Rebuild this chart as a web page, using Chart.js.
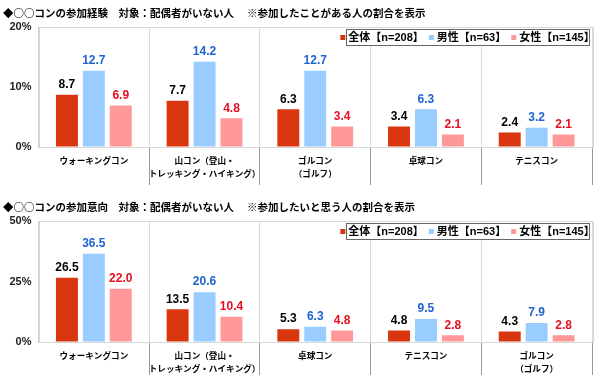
<!DOCTYPE html>
<html>
<head>
<meta charset="utf-8">
<script src="https://cdn.jsdelivr.net/npm/chart.js@4/dist/chart.umd.min.js"></script>
<style>
  html, body { margin: 0; padding: 0; background: #fff; }
  #wrap { position: relative; width: 600px; height: 375px; }
  #c1 { position: absolute; left: 0; top: 0; }
  #c2 { position: absolute; left: 0; top: 194px; }
</style>
</head>
<body>
<div id="wrap">
  <canvas id="c1" width="600" height="194"></canvas>
  <canvas id="c2" width="600" height="181"></canvas>
</div>
<script>
// ---- data ----
const seriesLabels = ['全体【n=208】', '男性【n=63】', '女性【n=145】'];

const title1 = '◆○○コンの参加経験　対象：配偶者がいない人　 ※参加したことがある人の割合を表示';
const categories1 = ['ウォーキングコン', ['山コン（登山・', 'トレッキング・ハイキング）'], ['ゴルコン', '（ゴルフ）'], '卓球コン', 'テニスコン'];
const all1 = [8.7, 7.7, 6.3, 3.4, 2.4];
const male1 = [12.7, 14.2, 12.7, 6.3, 3.2];
const female1 = [6.9, 4.8, 3.4, 2.1, 2.1];
const yTicks1 = [0, 10, 20];

const title2 = '◆○○コンの参加意向　対象：配偶者がいない人　 ※参加したいと思う人の割合を表示';
const categories2 = ['ウォーキングコン', ['山コン（登山・', 'トレッキング・ハイキング）'], '卓球コン', 'テニスコン', ['ゴルコン', '（ゴルフ）']];
const all2 = [26.5, 13.5, 5.3, 4.8, 4.3];
const male2 = [36.5, 20.6, 6.3, 9.5, 7.9];
const female2 = [22.0, 10.4, 4.8, 2.8, 2.8];
const yTicks2 = [0, 25, 50];

// ---- styles ----
const FONT = "'Liberation Sans', 'Noto Sans CJK JP', sans-serif";
const CJK = "'Noto Sans CJK JP', 'Liberation Sans', sans-serif";
Chart.defaults.font.family = FONT;
const barColors = ['#d9360f', '#99ccff', '#ff9999'];
const labelColors = ['#000000', '#1e63d0', '#e60f1e'];

const framePlugin = {
  id: 'frame',
  beforeDatasetsDraw(chart) {
    const a = chart.chartArea, ctx = chart.ctx;
    ctx.save();
    ctx.strokeStyle = '#d9d9d9';
    ctx.lineWidth = 1;
    ctx.strokeRect(Math.round(a.left) + 0.5, Math.round(a.top) + 0.5, Math.round(a.right - a.left), Math.round(a.bottom - a.top));
    ctx.restore();
  }
};

const valueLabels = {
  id: 'valueLabels',
  afterDatasetsDraw(chart) {
    const ctx = chart.ctx;
    ctx.save();
    ctx.font = 'bold 12px ' + FONT;
    ctx.textAlign = 'center';
    ctx.textBaseline = 'bottom';
    chart.data.datasets.forEach((ds, i) => {
      const meta = chart.getDatasetMeta(i);
      ctx.fillStyle = labelColors[i];
      meta.data.forEach((bar, j) => {
        ctx.fillText(ds.data[j].toFixed(1), bar.x, bar.y - 4);
      });
    });
    ctx.restore();
  }
};

const boxLegend = {
  id: 'boxLegend',
  afterDraw(chart) {
    const a = chart.chartArea, ctx = chart.ctx;
    const right = a.right - 3, left = right - 243, top = a.top + 2, h = 16;
    ctx.save();
    ctx.fillStyle = '#fff';
    ctx.fillRect(left, top, right - left, h);
    ctx.strokeStyle = '#666';
    ctx.lineWidth = 1;
    ctx.strokeRect(Math.round(left) + 0.5, Math.round(top) + 0.5, Math.round(right - left), h);
    ctx.font = 'bold 11px ' + FONT;
    ctx.textBaseline = 'middle';
    ctx.textAlign = 'left';
    const items = chart.data.datasets.map((ds, i) => ({ text: ds.label, color: barColors[i], w: ctx.measureText(ds.label).width }));
    const markerW = 5, gap1 = 3, gap2 = 5;
    let total = items.reduce((s, it) => s + markerW + gap1 + it.w, 0) + gap2 * (items.length - 1);
    let x = left + (right - left - total) / 2;
    const cy = top + h / 2 + 1;
    items.forEach(it => {
      ctx.fillStyle = it.color;
      ctx.fillRect(x, cy - 3, markerW, markerW);
      x += markerW + gap1;
      ctx.fillStyle = '#000';
      ctx.fillText(it.text, x, cy);
      x += it.w + gap2;
    });
    ctx.restore();
  }
};

function makeChart(id, title, cats, a, m, f, yt, xHeight) {
  return new Chart(document.getElementById(id), {
    type: 'bar',
    data: {
      labels: cats,
      datasets: [a, m, f].map((d, i) => ({
        label: seriesLabels[i],
        data: d,
        backgroundColor: barColors[i],
        borderWidth: 0,
        categoryPercentage: 0.73,
        barPercentage: 0.815
      }))
    },
    options: {
      responsive: false,
      animation: false,
      layout: { padding: { left: 3, right: 8, top: 0, bottom: 0 } },
      plugins: {
        legend: { display: false },
        tooltip: { enabled: false },
        title: {
          display: true,
          text: title,
          align: 'start',
          color: '#000',
          font: { family: CJK, size: 10.5, weight: 'bold' },
          padding: { top: 6.7, bottom: 7.7 }
        }
      },
      scales: {
        x: {
          grid: {
            offset: true,
            color: '#d9d9d9',
            tickColor: (ctx) => (ctx.index === 0 || ctx.index >= ctx.scale.ticks.length) ? 'rgba(0,0,0,0)' : '#999',
            tickLength: 38,
            drawOnChartArea: true
          },
          border: { display: true, color: '#aaa' },
          ticks: {
            color: '#000',
            font: { family: CJK, size: 8.6, weight: 'bold', lineHeight: '13px' },
            padding: -31,
            maxRotation: 0,
            autoSkip: false
          },
          afterFit: (s) => { s.height = xHeight; }
        },
        y: {
          min: yt[0],
          max: yt[yt.length - 1],
          afterBuildTicks: (s) => { s.ticks = yt.map(v => ({ value: v })); },
          grid: { drawOnChartArea: false, drawTicks: false },
          border: { display: true, color: '#cccccc' },
          ticks: {
            color: '#222',
            font: { size: 11, weight: 'bold' },
            padding: 7,
            callback: (v) => v + '%'
          },
          afterFit: (s) => { s.width = 35.5; }
        }
      }
    },
    plugins: [framePlugin, valueLabels, boxLegend]
  });
}

makeChart('c1', title1, categories1, all1, male1, female1, yTicks1, 47);
makeChart('c2', title2, categories2, all2, male2, female2, yTicks2, 33);
</script>
</body>
</html>
